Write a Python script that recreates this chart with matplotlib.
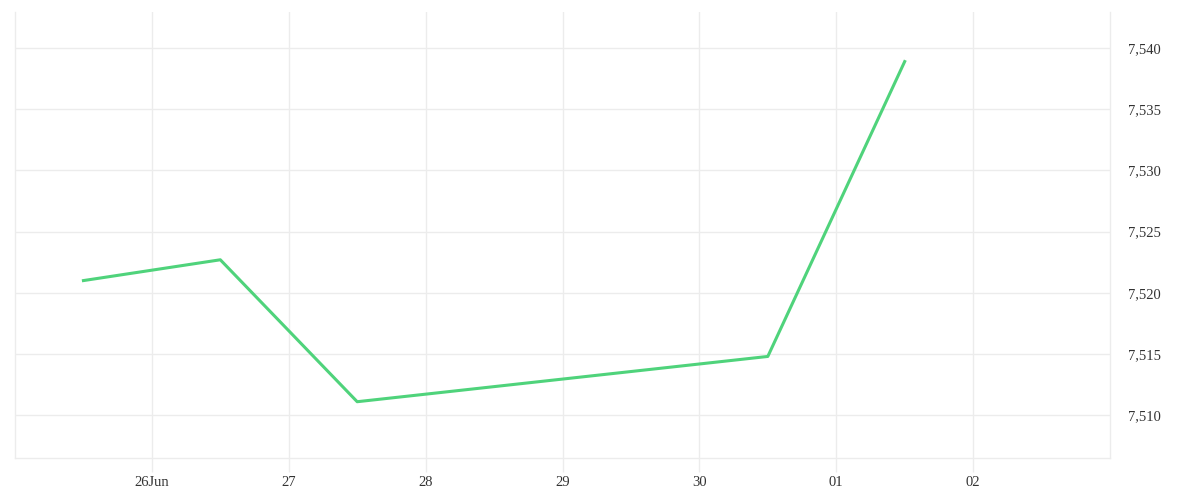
import matplotlib
matplotlib.use("Agg")
import matplotlib.pyplot as plt
import matplotlib.ticker as mticker
from datetime import datetime

# data
dates = ["2024-06-25 12:00", "2024-06-26 12:00", "2024-06-27 12:00",
         "2024-06-30 12:00", "2024-07-01 12:00"]
values = [7521.0, 7522.7, 7511.1, 7514.8, 7538.9]
tick_days = ["2024-06-26", "2024-06-27", "2024-06-28", "2024-06-29",
             "2024-06-30", "2024-07-01", "2024-07-02"]
tick_labels = ["26Jun", "27", "28", "29", "30", "01", "02"]
y_ticks = [7510, 7515, 7520, 7525, 7530, 7535, 7540]

x = [datetime.strptime(d, "%Y-%m-%d %H:%M") for d in dates]
xt = [datetime.strptime(d, "%Y-%m-%d") for d in tick_days]

plt.rcParams["font.family"] = ["Liberation Serif", "DejaVu Serif"]
grid_c = "#ececec"

fig = plt.figure(figsize=(12, 5), dpi=100)
ax = fig.add_axes([15 / 1200, 42 / 500, 1095 / 1200, 446 / 500])

ax.plot(x, values, color="#4fd37b", lw=2.2)

ax.set_xlim(datetime(2024, 6, 25), datetime(2024, 7, 3))
ax.set_ylim(7506.5, 7542.95)

ax.set_xticks(xt)
ax.set_xticklabels(tick_labels)
ax.set_yticks(y_ticks)
ax.yaxis.set_major_formatter(mticker.FuncFormatter(lambda v, p: f"{v:,.0f}"))
ax.yaxis.tick_right()

ax.grid(True, color=grid_c, lw=1)
ax.set_axisbelow(True)
ax.tick_params(axis="x", length=10, color=grid_c, width=1, pad=3,
               labelsize=10.5, labelcolor="#333333")
ax.tick_params(axis="y", length=0, pad=13, labelsize=10.5, labelcolor="#333333")

for s in ["left", "right", "bottom"]:
    ax.spines[s].set_color(grid_c)
    ax.spines[s].set_linewidth(1)
ax.spines["top"].set_visible(False)

fig.savefig("out.png", dpi=100)
